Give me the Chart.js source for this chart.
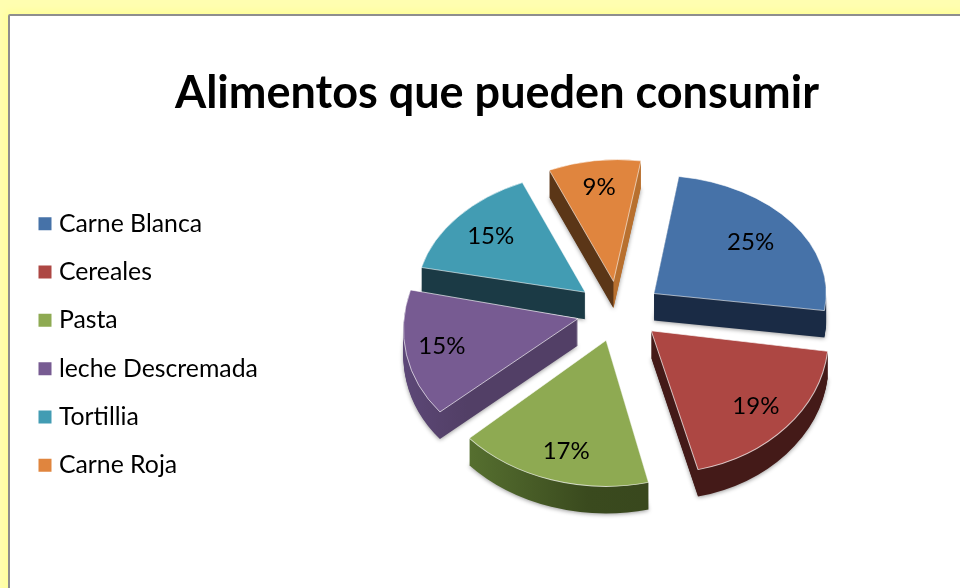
<!DOCTYPE html>
<html>
<head>
<meta charset="utf-8">
<title>Alimentos que pueden consumir</title>
<script src="https://cdn.jsdelivr.net/npm/chart.js@4"></script>
<style>
    html, body { margin: 0; height: 100%; overflow: hidden; background: #fffeb0; }
    #frame { position: absolute; left: 8px; top: 14px; width: 1000px; height: 640px; background: #fff; border: 2px solid #8e8e8e; box-shadow: 0 0 6px 3px #ffff99; border-top-left-radius: 2px; }
    #wrap { position: absolute; left: 19.5px; top: 15px; width: 954px; height: 573px; }
</style>
</head>
<body>
<div id="frame"></div>
<div id="wrap"><canvas id="chart-pie"></canvas></div>
<script>
const CATEGORIES = ['Carne Blanca', 'Cereales', 'Pasta', 'leche Descremada', 'Tortillia', 'Carne Roja'];
const VALUES = [25, 19, 17, 15, 15, 9];
const COLORS = ['#4672a8', '#ad4743', '#8eaa52', '#775b92', '#429cb3', '#e0853e'];
// side wall of each slice: gradient stops, left to right across the pie
const WALLS = [
    [[0, '#1a2b45'], [1, '#1a2b45']],
    [[0, '#441a18'], [1, '#441a18']],
    [[0.08, '#5a7532'], [0.45, '#3a4a1e'], [1, '#36431c']],
    [[0, '#5d4878'], [0.2, '#523f66'], [1, '#523f66']],
    [[0, '#1b3a45'], [1, '#1b3a45']],
    [[0.5, '#5b3617'], [0.5, '#b8702f'], [1, '#b8702f']],
];
// how far out along the slice each percent label sits, and a small turn in degrees
const LABEL_POS = [0.7, 0.8, 0.805, 0.81, 0.72, 0.76];
const LABEL_TURN = [0, 0, -1.3, 0, 0, 1];
// the original is drawn in perspective, so front slices come out larger than back ones
const SCALE_X = [0.99, 1.02, 1.06, 1.0, 0.97, 0.95];
const SCALE_Y = [0.68, 0.82, 0.84, 0.8, 0.69, 0.7];
const SKEW = [0, 0.043, 0, -0.096, -0.055, -0.03];
const EXPLODE = [43, 43, 45, 43, 44, 44];

const CENTER_X = 619 - 19.5;
const CENTER_Y = 311 - 15;
const SQUASH = 0.68;
const DEPTH = 27;
const LEGEND_SHIFT = 43;

function place(ctx, arc, dy, i) {
    const mid = (arc.startAngle + arc.endAngle) / 2;
    ctx.translate(CENTER_X + Math.cos(mid) * EXPLODE[i], CENTER_Y + Math.sin(mid) * EXPLODE[i] * SQUASH + dy);
    ctx.transform(1, 0, SKEW[i], 1, 0, 0);
    ctx.scale(SCALE_X[i], SCALE_Y[i]);
    ctx.translate(-arc.x, -arc.y);
}

const pie3d = {
    id: 'pie3d',
    afterLayout(chart) {
        chart.legend.top += LEGEND_SHIFT;
        chart.legend.bottom += LEGEND_SHIFT;
    },
    beforeDatasetDraw(chart) {
        const ctx = chart.ctx;
        const arcs = chart.getDatasetMeta(0).data.map((arc, i) => ({ arc, i }));
        arcs.sort((a, b) => Math.sin((a.arc.startAngle + a.arc.endAngle) / 2) - Math.sin((b.arc.startAngle + b.arc.endAngle) / 2));

        arcs.forEach(({ arc, i }) => {
            const base = arc.options;
            const r = arc.outerRadius;
            const grad = ctx.createLinearGradient(arc.x - r, 0, arc.x + r, 0);
            WALLS[i].forEach(s => grad.addColorStop(s[0], s[1]));
            arc.options = { ...base, backgroundColor: grad, borderWidth: 0 };
            for (let d = DEPTH; d > 0; d--) {
                ctx.save();
                if (d === DEPTH) {
                    ctx.shadowColor = 'rgba(0,0,0,0.4)';
                    ctx.shadowBlur = 4;
                    ctx.shadowOffsetY = 1;
                }
                place(ctx, arc, d, i);
                arc.draw(ctx);
                ctx.restore();
            }
            arc.options = { ...base, borderWidth: 1, borderColor: 'rgba(255,255,255,0.7)' };
            ctx.save();
            place(ctx, arc, 0, i);
            arc.draw(ctx);
            ctx.restore();
            arc.options = base;
        });
        return false;
    },
    afterDatasetsDraw(chart) {
        const ctx = chart.ctx;
        ctx.save();
        ctx.font = '24px Lato';
        ctx.fillStyle = '#000';
        ctx.textAlign = 'center';
        ctx.textBaseline = 'middle';
        chart.getDatasetMeta(0).data.forEach((arc, i) => {
            const mid = (arc.startAngle + arc.endAngle) / 2 + LABEL_TURN[i] * Math.PI / 180;
            const dist = LABEL_POS[i] * arc.outerRadius;
            const x = CENTER_X + Math.cos(mid) * (EXPLODE[i] + dist * SCALE_X[i]);
            const y = CENTER_Y + Math.sin(mid) * (EXPLODE[i] * SQUASH + dist * SCALE_Y[i]) - 2;
            ctx.fillText(VALUES[i] + '%', x, y);
        });
        ctx.restore();
    },
};

new Chart(document.getElementById('chart-pie'), {
    type: 'pie',
    data: {
        labels: CATEGORIES,
        datasets: [{ data: VALUES, backgroundColor: COLORS, borderWidth: 0 }],
    },
    options: {
        responsive: true,
        maintainAspectRatio: false,
        animation: false,
        rotation: 8.3,
        radius: 174,
        layout: { padding: { bottom: 0 } },
        plugins: {
            title: {
                display: true,
                text: 'Alimentos que pueden consumir',
                color: '#000',
                font: { family: 'Lato', size: 45, weight: 'bold' },
                padding: { top: 51, bottom: 95 },
            },
            legend: {
                position: 'left',
                labels: {
                    color: '#000',
                    font: { family: 'Lato', size: 24.8 },
                    usePointStyle: true,
                    pointStyle: 'rect',
                    boxWidth: 3,
                    boxHeight: 13,
                    padding: 23.5,
                },
            },
            tooltip: { enabled: false },
        },
    },
    plugins: [pie3d],
});
</script>
</body>
</html>
